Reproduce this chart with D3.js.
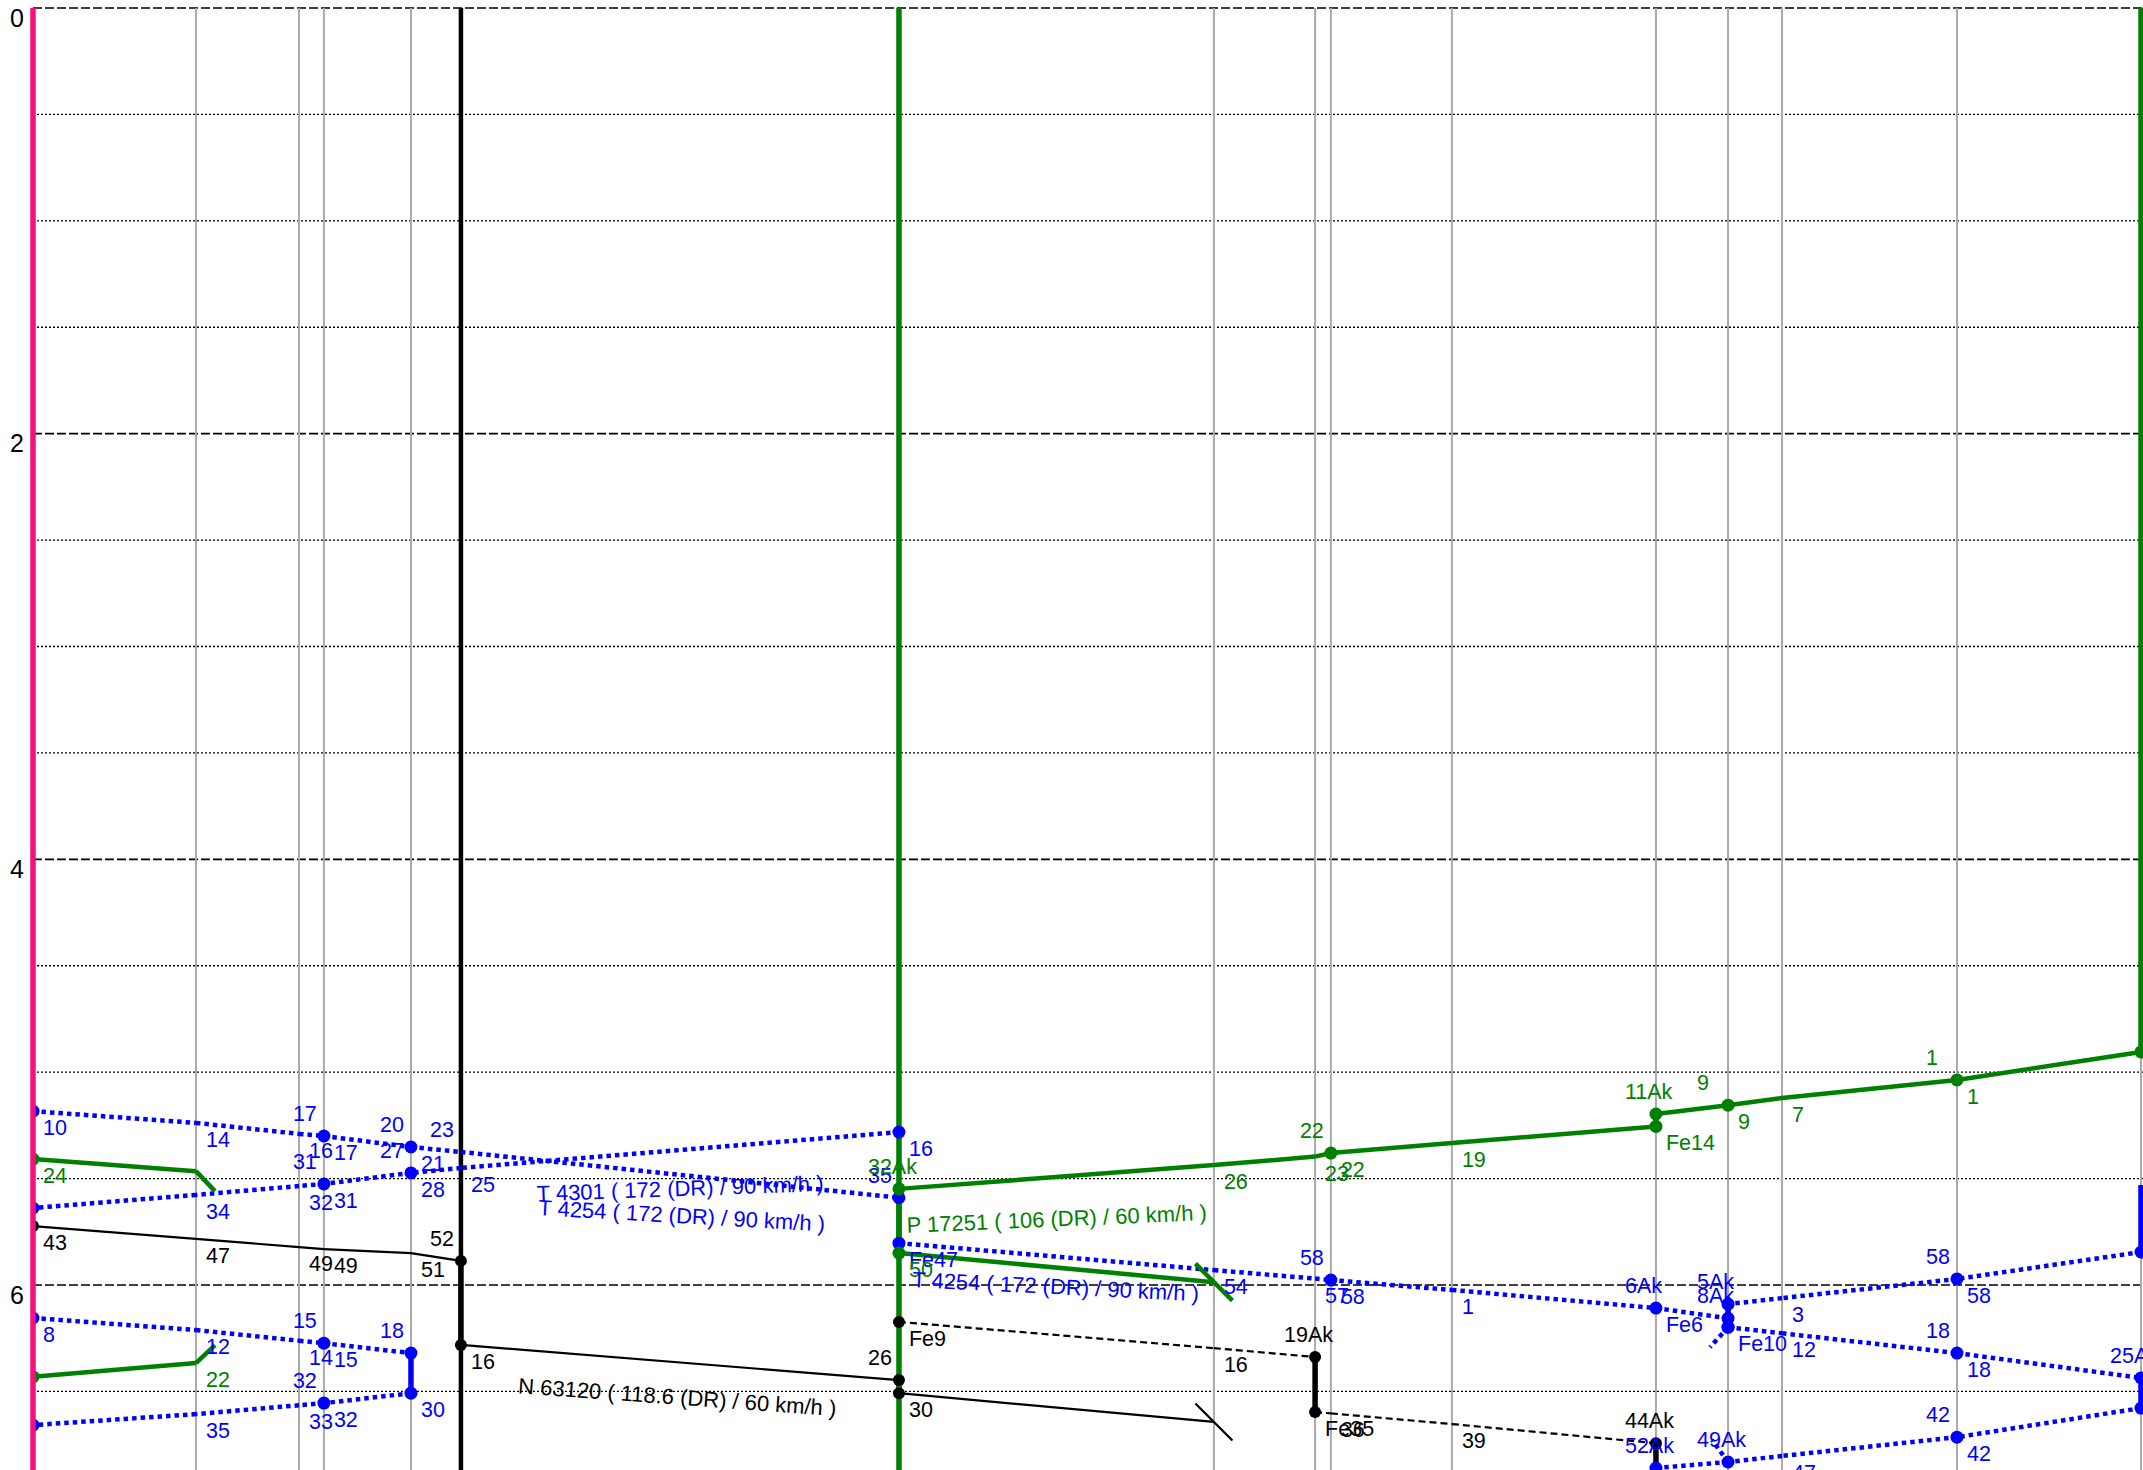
<!DOCTYPE html>
<html>
<head>
<meta charset="utf-8">
<script src="https://cdn.jsdelivr.net/npm/d3@7"></script>
<style>
  body { margin: 0; background: #fff; }
  text { font-family: "Liberation Sans", Arial, sans-serif; }
</style>
</head>
<body>
<script>
var W = 2143, H = 1470;

// stations along the line, km
var stationKm = [0, 7.73, 12.62, 13.8, 17.93, 20.3, 41.08, 56.02, 60.82, 61.57, 67.31, 76.99, 80.41, 82.97, 91.27, 100];
// labelled hours on the time axis
var hourTicks = [0, 2, 4, 6];

// train stops: [station, arrive (min after 0:00), depart, dots, label above, label below]
var trainT4254a = [
  [0, 311.0, 311.0, "ad", "", "10"],
  [1, 314.3, 314.3, "", "", "14"],
  [2, 317.4, 317.4, "", "", "16"],
  [3, 318.0, 318.0, "ad", "17", "17"],
  [4, 321.1, 321.1, "ad", "20", "21"],
  [5, 322.5, 322.5, "", "23", ""],
  [6, 335.4, 335.4, "ad", "35", ""]
];
var trainT4301 = [
  [6, 316.9, 316.9, "ad", "", "16"],
  [5, 327.0, 327.0, "", "", "25"],
  [4, 328.4, 328.4, "ad", "27", "28"],
  [3, 331.5, 331.5, "ad", "31", "31"],
  [2, 332.1, 332.1, "", "", "32"],
  [1, 334.6, 334.6, "", "", "34"],
  [0, 338.3, 338.3, "ad", "", ""]
];
var trainT4254b = [
  [6, 348.2, 348.2, "ad", "", "Fe47"],
  [7, 355.8, 355.8, "", "", "54"],
  [8, 358.2, 358.2, "", "", "57"],
  [9, 358.6, 358.6, "ad", "58", "58"],
  [10, 361.4, 361.4, "", "", "1"],
  [11, 366.5, 366.5, "ad", "6Ak", "Fe6"],
  [12, 369.4, 371.9, "ad", "8Ak", "Fe10"],
  [13, 373.6, 373.6, "", "", "12"],
  [14, 379.2, 379.2, "ad", "18", "18"],
  [15, 386.2, 394.7, "ad", "25Ak", ""],
  [14, 402.9, 402.9, "ad", "42", "42"],
  [13, 408.2, 408.2, "", "", "47"],
  [12, 409.9, 409.9, "ad", "49Ak", ""],
  [11, 411.6, 411.6, "ad", "52Ak", ""]
];
var trainTW = [
  [15, 331.8, 350.7, "d", "", ""],
  [14, 358.3, 358.3, "ad", "58", "58"],
  [13, 363.7, 363.7, "", "", "3"],
  [12, 365.4, 371.9, "ad", "5Ak", ""]
];
var trainTL = [
  [0, 369.3, 369.3, "ad", "", "8"],
  [1, 372.7, 372.7, "", "", "12"],
  [2, 375.7, 375.7, "", "", "14"],
  [3, 376.4, 376.4, "ad", "15", "15"],
  [4, 379.2, 390.5, "ad", "18", "30"],
  [3, 393.3, 393.3, "ad", "32", "32"],
  [2, 393.9, 393.9, "", "", "33"],
  [1, 396.4, 396.4, "", "", "35"],
  [0, 399.5, 399.5, "ad", "", ""]
];
var trainN63120 = [
  [0, 343.4, 343.4, "ad", "", "43"],
  [1, 347.0, 347.0, "", "", "47"],
  [2, 349.3, 349.3, "", "", "49"],
  [3, 349.9, 349.9, "", "", "49"],
  [4, 351.0, 351.0, "", "", "51"],
  [5, 353.2, 376.9, "ad", "52", "16"],
  [6, 386.8, 390.5, "ad", "26", "30"],
  [7, 398.6, 398.6, "", "", ""]
];
var trainNFe = [
  [6, 370.4, 370.4, "ad", "", "Fe9"],
  [7, 377.8, 377.8, "", "", "16"],
  [8, 380.3, 395.8, "ad", "19Ak", "Fe35"],
  [9, 396.2, 396.2, "", "", "36"],
  [10, 399.2, 399.2, "", "", "39"],
  [11, 404.6, 430, "ad", "44Ak", ""]
];
var trainP17251 = [
  [15, -10, 294.3, "ad", "", ""],
  [14, 302.2, 302.2, "ad", "1", "1"],
  [13, 307.3, 307.3, "", "", "7"],
  [12, 309.3, 309.3, "ad", "9", "9"],
  [11, 311.8, 315.3, "ad", "11Ak", "Fe14"],
  [10, 320.0, 320.0, "", "", "19"],
  [9, 322.8, 322.8, "ad", "22", "22"],
  [8, 323.8, 323.8, "", "", "23"],
  [7, 326.2, 326.2, "", "", "26"],
  [6, 332.9, 430, "ad", "32Ak", ""]
];
var trainPa = [
  [6, -10, 351.0, "d", "", "50"],
  [7, 359.2, 359.2, "", "", ""]
];
var trainPb = [
  [0, 324.5, 324.5, "ad", "", "24"],
  [1, 327.9, 327.9, "", "", ""]
];
var trainPc = [
  [1, 382.0, 382.0, "", "", "22"],
  [0, 385.9, 385.9, "ad", "", ""]
];

var trains = [
  { id: "T4254a", cls: "T", stops: trainT4254a },
  { id: "T4301", cls: "T", stops: trainT4301 },
  { id: "T4254b", cls: "T", stops: trainT4254b },
  { id: "TW", cls: "T", stops: trainTW },
  { id: "TL", cls: "T", stops: trainTL },
  { id: "N63120", cls: "N", stops: trainN63120 },
  { id: "NFe", cls: "Nd", stops: trainNFe },
  { id: "P17251", cls: "P", stops: trainP17251 },
  { id: "Pa", cls: "P", stops: trainPa },
  { id: "Pb", cls: "P", stops: trainPb },
  { id: "Pc", cls: "P", stops: trainPc }
];

// line ends leaving to a branch: [train, station, time, kind]
var trainEnds = [
  ["Pb", 1, 327.9, "dr"],
  ["Pc", 1, 382.0, "ur"],
  ["Pa", 7, 359.2, "x"],
  ["N63120", 7, 398.6, "x"],
  ["TW", 12, 371.9, "dl"],
  ["T4254b", 12, 409.9, "ul"]
];

// standing occupations drawn as thick station lines: [station, from, to, cls]
var occupations = [
  [5, -10, 430, "N"],
  [0, -10, 430, "sel"]
];

// train names along the lines: [train, text, km start, time start, km end, time end]
var nameLabels = [
  ["T4301", "T 4301 ( 172 (DR) / 90 km/h )", 23.91, 336.4, 37.33, 333.5],
  ["T4254a", "T 4254 ( 172 (DR) / 90 km/h )", 23.96, 340.3, 37.24, 344.8],
  ["N63120", "N 63120 ( 118.6 (DR) / 60 km/h )", 23.0, 390.5, 37.95, 396.9],
  ["P17251", "P 17251 ( 106 (DR) / 60 km/h )", 41.46, 345.3, 55.6, 341.7],
  ["T4254b", "T 4254 ( 172 (DR) / 90 km/h )", 41.7, 360.6, 55.12, 364.5]
];

var style = {
  T:  { color: "#0000ff", width: 4.5, dash: "4.5,4", r: 6.5 },
  N:  { color: "#000000", width: 2.2, dash: null, r: 6 },
  Nd: { color: "#000000", width: 2.2, dash: "7,4", r: 6 },
  P:  { color: "#008000", width: 4.5, dash: null, r: 6.5 },
  sel: { color: "#f5107e", width: 5.5 }
};

var x = d3.scaleLinear().domain([0, 100]).range([33, 2141]);
var y = d3.scaleLinear().domain([0, 360]).range([8, 1285]);

var svg = d3.select("body").append("svg")
  .attr("width", W)
  .attr("height", H);

svg.append("clipPath").attr("id", "plot")
  .append("rect").attr("x", 33).attr("y", 8).attr("width", W - 33).attr("height", H - 8);

// horizontal grid every half hour
var gridMinutes = d3.range(0, 421, 30);
svg.append("g").selectAll("line")
  .data(gridMinutes)
  .enter()
  .append("line")
  .attr("x1", 33)
  .attr("x2", W)
  .attr("y1", function(d){ return y(d); })
  .attr("y2", function(d){ return y(d); })
  .attr("stroke", "#000")
  .attr("stroke-width", function(d){ return d % 120 === 0 ? 1.7 : 1.4; })
  .attr("stroke-dasharray", function(d){ return d % 120 === 0 ? "9,3" : "2,2"; });

// station lines
svg.append("g").selectAll("line")
  .data(stationKm)
  .enter()
  .append("line")
  .attr("x1", function(d){ return x(d); })
  .attr("x2", function(d){ return x(d); })
  .attr("y1", 8)
  .attr("y2", H)
  .attr("stroke", "#aaaaaa")
  .attr("stroke-width", 2);

var plot = svg.append("g").attr("clip-path", "url(#plot)");

plot.selectAll("line.occ")
  .data(occupations.filter(function(d){ return d[3] !== "sel"; }))
  .enter()
  .append("line")
  .attr("class", "occ")
  .attr("x1", function(d){ return x(stationKm[d[0]]); })
  .attr("x2", function(d){ return x(stationKm[d[0]]); })
  .attr("y1", function(d){ return y(d[1]); })
  .attr("y2", function(d){ return y(d[2]); })
  .attr("stroke", function(d){ return style[d[3]].color; })
  .attr("stroke-width", 4.5);

var byId = {};
trains.forEach(function(tr){ byId[tr.id] = tr; });

trains.forEach(function(tr){
  var s = style[tr.cls];
  var g = plot.append("g");
  var st = tr.stops;
  // running segments
  var runs = [];
  for (var i = 0; i < st.length - 1; i++) {
    runs.push([st[i][0], st[i][2], st[i + 1][0], st[i + 1][1]]);
  }
  g.selectAll("line.run")
    .data(runs)
    .enter()
    .append("line")
    .attr("class", "run")
    .attr("x1", function(d){ return x(stationKm[d[0]]); })
    .attr("y1", function(d){ return y(d[1]); })
    .attr("x2", function(d){ return x(stationKm[d[2]]); })
    .attr("y2", function(d){ return y(d[3]); })
    .attr("stroke", s.color)
    .attr("stroke-width", s.width)
    .attr("stroke-dasharray", s.dash);
  // dwell at stations
  g.selectAll("line.dwell")
    .data(st.filter(function(d){ return d[2] > d[1]; }))
    .enter()
    .append("line")
    .attr("class", "dwell")
    .attr("x1", function(d){ return x(stationKm[d[0]]); })
    .attr("x2", function(d){ return x(stationKm[d[0]]); })
    .attr("y1", function(d){ return y(d[1]); })
    .attr("y2", function(d){ return y(d[2]); })
    .attr("stroke", s.color)
    .attr("stroke-width", 5.5);
});

// branch ends
trainEnds.forEach(function(e){
  var s = style[byId[e[0]].cls];
  var px = x(stationKm[e[1]]), py = y(e[2]);
  var x1 = px, y1 = py, x2, y2;
  if (e[3] === "x") { x1 = px - 18.5; y1 = py - 18.5; x2 = px + 18.5; y2 = py + 18.5; }
  if (e[3] === "dr") { x2 = px + 19; y2 = py + 20; }
  if (e[3] === "ur") { x2 = px + 19; y2 = py - 18; }
  if (e[3] === "dl") { x2 = px - 18; y2 = py + 20; }
  if (e[3] === "ul") { x2 = px - 16; y2 = py - 22; }
  plot.append("line")
    .attr("x1", x1).attr("y1", y1).attr("x2", x2).attr("y2", y2)
    .attr("stroke", s.color)
    .attr("stroke-width", s.width)
    .attr("stroke-dasharray", s.dash);
});

// stop dots
trains.forEach(function(tr){
  var s = style[tr.cls];
  var pts = [];
  tr.stops.forEach(function(d){
    if (d[3].indexOf("a") >= 0) pts.push([d[0], d[1]]);
    if (d[3].indexOf("d") >= 0 && (d[2] !== d[1] || d[3].indexOf("a") < 0)) pts.push([d[0], d[2]]);
  });
  plot.append("g").selectAll("circle")
    .data(pts)
    .enter()
    .append("circle")
    .attr("cx", function(d){ return x(stationKm[d[0]]); })
    .attr("cy", function(d){ return y(d[1]); })
    .attr("r", s.r)
    .attr("fill", s.color);
});

// highlighted station on top
svg.selectAll("line.sel")
  .data(occupations.filter(function(d){ return d[3] === "sel"; }))
  .enter()
  .append("line")
  .attr("class", "sel")
  .attr("x1", function(d){ return x(stationKm[d[0]]); })
  .attr("x2", function(d){ return x(stationKm[d[0]]); })
  .attr("y1", function(d){ return Math.max(8, y(d[1])); })
  .attr("y2", function(d){ return y(d[2]); })
  .attr("stroke", style.sel.color)
  .attr("stroke-width", style.sel.width);

// time labels at stations
trains.forEach(function(tr){
  var s = style[tr.cls];
  var g = svg.append("g")
    .attr("font-size", 21.5)
    .attr("fill", s.color);
  g.selectAll("text.a")
    .data(tr.stops.filter(function(d){ return d[4] !== ""; }))
    .enter()
    .append("text")
    .attr("x", function(d){ return x(stationKm[d[0]]) - 31; })
    .attr("y", function(d){ return y(d[1]) - 15; })
    .text(function(d){ return d[4]; });
  g.selectAll("text.d")
    .data(tr.stops.filter(function(d){ return d[5] !== ""; }))
    .enter()
    .append("text")
    .attr("x", function(d){ return x(stationKm[d[0]]) + 10; })
    .attr("y", function(d){ return y(d[2]) + 24; })
    .text(function(d){ return d[5]; });
});

// train names
nameLabels.forEach(function(n){
  var s = style[byId[n[0]].cls];
  var x1 = x(n[2]), y1 = y(n[3]), x2 = x(n[4]), y2 = y(n[5]);
  var ang = Math.atan2(y2 - y1, x2 - x1) * 180 / Math.PI;
  svg.append("text")
    .attr("x", x1)
    .attr("y", y1)
    .attr("transform", "rotate(" + ang + "," + x1 + "," + y1 + ")")
    .attr("font-size", 22)
    .attr("fill", s.color)
    .text(n[1]);
});

// hour axis
var axis = svg.append("g")
  .attr("transform", "translate(33,0)")
  .call(d3.axisLeft(d3.scaleLinear().domain([0, 6]).range([8, 1285]))
    .tickValues(hourTicks)
    .tickSize(0)
    .tickPadding(9)
    .tickFormat(d3.format("d")));
axis.select(".domain").remove();
axis.selectAll("text")
  .attr("dy", "0.72em")
  .attr("font-size", 25)
  .attr("font-family", "Liberation Sans, Arial, sans-serif")
  .attr("fill", "#000");
</script>
</body>
</html>
